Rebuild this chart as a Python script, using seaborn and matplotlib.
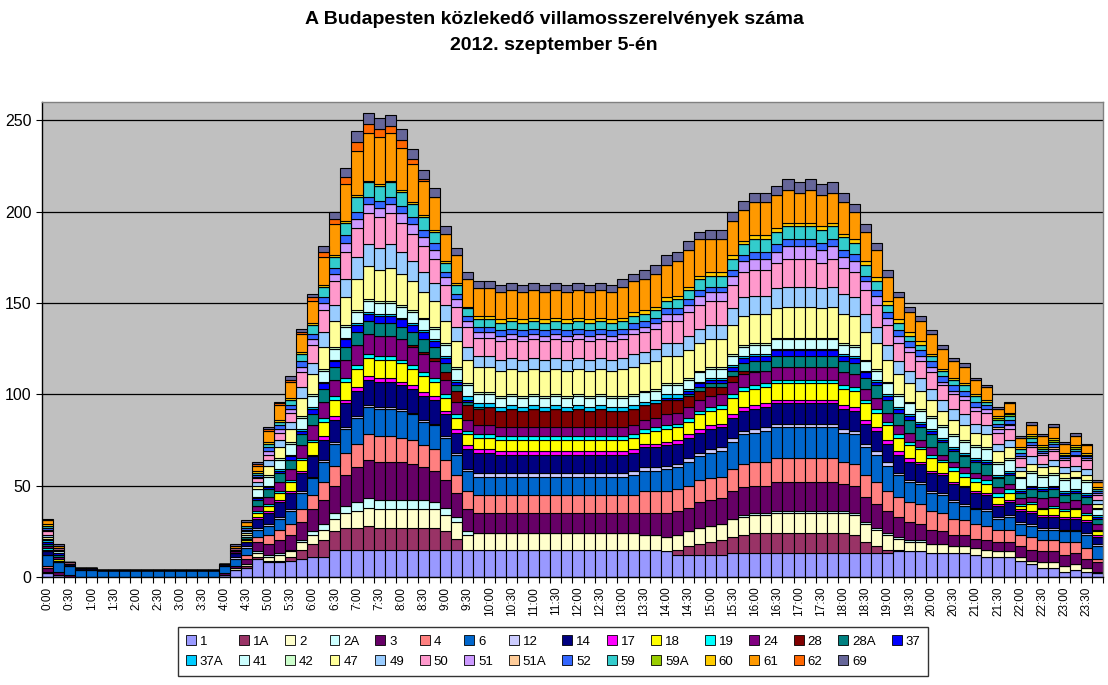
import numpy as np
import pandas as pd
import matplotlib
matplotlib.use("Agg")
import matplotlib.pyplot as plt
from matplotlib.patches import Patch
import seaborn as sns

# ------------------------ data ------------------------
# 96 quarter-hour slots, 0:00 ... 23:45
slots = [f"{h}:{m:02d}" for h in range(24) for m in (0, 15, 30, 45)]

lines = ['1', '1A', '2', '2A', '3', '4', '6', '12', '14', '17', '18', '19', '24', '28', '28A', '37',
         '37A', '41', '42', '47', '49', '50', '51', '51A', '52', '59', '59A', '60', '61', '62', '69']

s_1 = [2,1,0,0,0,0,0,0,0,0,0,0, 0,0,0,0,1,4,5,10,8,8,9,10,
       11,11,15,15,15,15,15,15,15,15,15,15, 15,15,15,15,15,15,15,15,15,15,15,15,
       15,15,15,15,15,15,15,15,14,12,12,12, 12,12,13,13,13,13,13,13,13,13,13,13,
       13,13,13,13,13,14,14,14,13,13,13,13, 12,11,11,11,9,7,5,5,3,4,3,2]
s_1A = [0,0,0,0,0,0,0,0,0,0,0,0, 0,0,0,0,0,0,1,1,1,1,2,5,
        7,9,10,12,12,13,12,12,12,12,12,12, 10,6,0,0,0,0,0,0,0,0,0,0,
        0,0,0,0,0,0,0,0,0,3,5,6, 7,8,9,10,11,11,11,11,11,11,11,11,
        11,10,6,4,2,1,0,0,0,0,0,0, 0,0,0,0,0,0,0,0,0,0,0,0]
s_2 = [1,0,0,0,0,0,0,0,0,0,0,0, 0,0,0,0,0,1,1,2,2,3,3,4,
       5,6,7,8,9,10,10,10,10,10,10,10, 9,9,8,9,9,9,9,9,9,9,9,9,
       9,9,9,9,9,9,8,8,8,8,8,9, 9,9,10,10,10,10,11,11,11,11,11,11,
       11,11,10,9,8,6,5,5,5,5,4,4, 4,4,3,3,2,2,3,3,3,3,2,1]
s_2A = [0,0,0,0,0,0,0,0,0,0,0,0, 0,0,0,0,0,0,0,1,1,1,1,1,
        2,3,3,4,5,5,5,5,5,5,5,4, 4,3,2,0,0,0,0,0,0,0,0,0,
        0,0,0,0,0,0,0,0,0,0,0,0, 0,0,0,1,1,1,1,1,1,1,1,1,
        1,1,1,1,1,1,1,1,0,0,0,0, 0,0,0,0,0,0,0,0,0,0,0,0]
s_3 = [2,2,1,0,0,0,0,0,0,0,0,0, 0,0,0,0,1,1,3,5,6,7,8,10,
       12,13,15,17,19,21,21,21,21,20,18,17, 15,13,12,11,11,11,11,11,11,11,11,11,
       11,11,11,11,11,11,12,12,13,13,13,14, 14,14,15,15,15,15,16,16,16,16,16,16,
       15,15,14,13,12,11,10,9,8,7,6,6, 5,5,5,5,6,6,6,6,6,6,5,5]
s_4 = [1,0,0,0,0,0,0,0,0,0,0,0, 0,0,0,0,0,0,2,3,5,6,6,7,
       8,10,11,12,13,14,14,14,13,13,12,12, 11,10,10,10,10,10,10,10,10,10,10,10,
       10,10,10,10,10,10,12,12,12,12,12,12, 12,12,12,13,13,13,13,13,13,13,13,13,
       12,12,12,12,11,11,11,11,10,10,9,8, 8,8,7,7,6,7,6,6,7,6,6,2]
s_6 = [6,5,5,4,4,4,4,4,4,4,4,4, 4,4,4,4,4,4,4,4,5,6,7,9,
       9,11,12,13,14,15,15,15,15,14,13,13, 12,11,11,10,10,10,10,10,10,10,10,10,
       10,10,10,10,10,11,11,11,12,12,13,13, 14,14,15,16,16,17,17,17,17,17,17,17,
       16,16,15,15,14,12,11,11,10,10,9,8, 8,8,6,7,6,6,6,6,6,6,7,7]
s_12 = [0,0,0,0,0,0,0,0,0,0,0,0, 0,0,0,0,0,1,1,1,1,1,1,1,
        1,1,1,1,1,1,1,1,1,1,1,1, 1,1,1,2,2,2,2,2,2,2,2,2,
        2,2,2,2,2,2,2,2,2,2,2,2, 2,2,2,2,2,2,2,2,2,2,2,2,
        2,2,2,2,2,1,1,1,1,1,1,1, 1,1,1,1,1,1,1,1,1,1,1,1]
s_14 = [2,1,1,1,1,0,0,0,0,0,0,0, 0,0,0,0,1,2,2,5,6,8,9,10,
        11,11,12,13,14,14,14,14,13,13,13,13, 12,11,11,11,11,10,10,10,10,10,10,10,
        10,10,10,10,10,10,11,11,11,11,11,11, 11,11,11,11,11,11,11,11,11,11,11,11,
        11,11,11,11,10,10,10,10,10,10,9,9, 8,8,6,7,6,6,6,6,6,6,6,4]
s_17 = [0,0,0,0,0,0,0,0,0,0,0,0, 0,0,0,0,0,0,0,1,1,1,1,1,
        1,2,2,2,2,2,2,2,2,2,2,2, 2,2,2,2,2,2,2,2,2,2,2,2,
        2,2,2,2,2,2,2,2,2,2,2,2, 2,2,2,2,2,2,2,2,2,2,2,2,
        2,2,2,2,2,2,2,1,1,1,1,1, 1,1,1,1,1,1,1,1,1,1,1,1]
s_18 = [1,1,0,0,0,0,0,0,0,0,0,0, 0,0,0,0,0,0,1,2,3,4,5,6,
        7,8,9,10,10,10,10,10,10,9,9,8, 7,6,6,6,6,6,6,6,6,6,6,6,
        6,6,6,6,6,6,6,7,7,7,7,8, 8,8,9,9,9,9,9,9,9,9,9,9,
        9,9,9,8,8,7,7,7,7,6,6,5, 5,5,4,4,2,4,3,4,3,4,3,2]
s_19 = [1,0,0,0,0,0,0,0,0,0,0,0, 0,0,0,0,0,0,0,1,1,1,1,1,
        1,2,2,2,2,2,2,2,2,2,2,2, 2,2,2,2,2,2,2,2,2,2,2,2,
        2,2,2,2,2,2,2,2,2,2,2,2, 2,2,2,2,2,2,2,2,2,2,2,2,
        2,2,2,2,2,2,2,1,2,1,2,2, 2,2,2,2,1,1,1,1,1,1,1,1]
s_24 = [1,1,0,0,0,0,0,0,0,0,0,0, 0,0,0,0,0,1,1,3,4,5,6,7,
        8,9,9,10,11,11,11,11,11,10,10,9, 8,7,6,5,5,5,5,5,5,5,5,5,
        5,5,5,5,5,5,5,5,6,6,6,6, 6,6,7,7,7,7,7,7,7,7,7,7,
        7,7,6,6,5,5,5,4,4,3,3,3, 3,3,3,3,3,3,5,5,4,4,5,3]
s_28 = [0,0,0,0,0,0,0,0,0,0,0,0, 0,0,0,0,0,0,0,0,0,0,0,0,
        0,0,0,0,0,0,0,0,0,1,1,2, 4,6,8,9,10,9,10,9,10,9,10,9,
        10,9,10,9,9,9,8,8,8,7,6,5, 5,4,3,2,1,0,0,0,0,0,0,0,
        0,0,0,0,0,0,0,0,0,0,0,0, 0,0,0,0,0,0,0,0,0,0,0,0]
s_28A = [1,1,0,0,0,0,0,0,0,0,0,0, 0,0,0,0,0,0,1,3,4,5,5,6,
         6,7,7,7,7,7,7,7,7,7,7,6, 5,3,2,1,0,0,0,0,0,0,0,0,
         0,0,0,0,0,0,0,0,0,0,1,2, 2,2,3,4,5,5,6,6,6,6,6,6,
         6,6,6,7,7,7,7,7,7,7,6,6, 6,6,5,5,3,4,4,4,4,4,4,3]
s_37 = [1,1,0,0,0,0,0,0,0,0,0,0, 0,0,0,0,0,0,0,1,1,1,2,2,
        3,3,3,4,4,4,4,4,4,4,4,3, 3,2,1,0,0,0,0,0,0,0,0,0,
        0,0,0,0,0,0,0,0,1,1,2,2, 2,2,2,3,3,3,3,3,3,3,3,3,
        3,3,3,2,2,2,2,2,2,1,1,1, 1,1,1,1,1,1,1,1,1,1,1,1]
s_37A = [1,0,0,0,0,0,0,0,0,0,0,0, 0,0,0,0,0,0,0,1,1,1,1,1,
         1,1,1,1,1,1,1,1,1,1,1,1, 1,1,2,2,2,2,2,2,2,2,2,2,
         2,2,2,2,2,2,2,2,2,2,1,1, 1,1,1,1,1,1,1,1,1,1,1,1,
         1,1,1,1,1,1,1,1,1,1,1,1, 1,1,1,1,1,1,1,1,1,1,1,1]
s_41 = [1,1,0,0,0,0,0,0,0,0,0,0, 0,0,0,0,0,1,1,4,5,5,6,6,
        6,6,6,6,6,6,6,6,6,6,6,6, 6,6,6,5,5,5,5,5,5,5,5,5,
        5,5,5,5,5,5,5,5,5,5,5,5, 5,5,5,5,5,5,5,5,5,5,5,5,
        5,5,5,5,6,6,6,6,6,6,6,6, 6,6,6,6,6,7,6,6,6,6,6,3]
s_42 = [0,0,0,0,0,0,0,0,0,0,0,0, 0,0,0,0,0,0,0,0,1,1,1,1,
        1,1,1,1,1,1,1,1,1,1,1,1, 1,1,1,1,1,1,1,1,1,1,1,1,
        1,1,1,1,1,1,1,1,1,1,1,1, 1,1,1,1,1,1,1,1,1,1,1,1,
        1,1,1,1,1,1,1,1,1,1,1,1, 1,1,1,1,1,1,1,1,1,1,1,1]
s_47 = [1,1,0,0,0,0,0,0,0,0,0,0, 0,0,0,0,0,0,1,2,5,6,7,10,
        11,12,14,15,17,18,17,18,17,16,14,14, 12,14,13,14,14,14,14,14,14,14,14,14,
        14,14,14,14,15,15,15,15,15,15,15,15, 15,15,16,16,16,16,16,17,17,17,16,17,
        16,16,15,14,12,11,10,10,9,8,8,8, 7,7,6,6,3,4,4,4,3,3,3,2]
s_49 = [1,0,0,0,0,0,0,0,0,0,0,0, 0,0,0,0,0,0,1,2,3,4,4,6,
        6,8,9,10,12,12,12,13,12,11,11,10, 9,8,7,6,6,6,6,6,6,6,6,6,
        6,6,6,6,6,7,6,7,7,7,8,8, 8,8,9,10,10,10,11,11,11,11,11,11,
        11,10,10,9,8,7,7,7,6,6,6,6, 5,5,4,4,2,4,2,3,3,3,3,2]
s_50 = [2,1,1,0,0,0,0,0,0,0,0,0, 0,0,0,0,0,1,1,2,3,4,5,8,
        10,12,13,15,16,17,17,17,16,15,14,13, 11,11,11,10,10,10,10,10,10,10,10,10,
        10,10,10,10,10,11,11,11,12,12,13,13, 13,13,13,14,14,14,14,15,15,15,14,15,
        14,14,13,12,11,10,10,9,9,8,8,8, 7,7,6,6,5,5,5,5,4,5,5,3]
s_51 = [1,0,0,0,0,0,0,0,0,0,0,0, 0,0,0,0,0,0,0,1,2,2,2,3,
        3,4,4,5,5,5,5,5,5,5,5,5, 4,4,3,3,3,3,3,3,3,3,3,3,
        3,3,3,3,3,3,3,3,4,4,4,5, 5,5,5,6,6,6,6,7,7,7,7,7,
        6,6,5,5,4,4,3,3,3,2,2,2, 2,2,2,2,1,1,1,1,1,1,1,1]
s_51A = [0,0,0,0,0,0,0,0,0,0,0,0, 0,0,0,0,0,0,0,0,0,0,0,0,
         0,0,0,0,0,0,0,0,0,0,0,0, 0,0,0,0,0,0,0,0,0,0,0,0,
         0,0,0,0,0,0,0,0,0,0,0,0, 0,0,0,0,0,0,0,0,0,0,0,0,
         0,0,0,0,0,0,0,0,0,0,0,0, 0,0,1,1,0,0,0,1,0,0,0,0]
s_52 = [1,0,0,0,0,0,0,0,0,0,0,0, 0,0,0,0,0,0,1,1,2,2,2,3,
        3,3,3,4,4,4,4,4,4,4,4,4, 3,3,3,3,3,3,3,3,3,3,3,3,
        3,3,3,3,3,3,3,3,3,3,3,3, 3,3,3,3,4,4,4,4,4,4,4,4,
        4,4,3,3,3,3,3,3,3,3,3,3, 3,2,2,2,2,2,1,2,1,2,1,1]
s_59 = [1,0,0,0,0,0,0,0,0,0,0,0, 0,0,0,0,0,0,1,1,2,2,3,4,
        5,6,6,7,8,8,8,8,8,7,7,6, 5,5,4,4,4,4,4,4,4,4,4,4,
        4,4,4,4,4,4,4,4,4,5,5,6, 6,6,6,6,7,7,7,7,7,7,7,7,
        7,6,6,5,4,4,3,3,3,3,3,3, 3,2,2,2,2,2,1,1,1,1,1,1]
s_59A = [0,0,0,0,0,0,0,0,0,0,0,0, 0,0,0,0,0,0,0,0,0,0,0,0,
         0,0,0,0,0,0,0,0,0,0,0,0, 0,0,0,0,0,0,0,0,0,0,0,0,
         0,0,0,0,0,0,0,0,0,0,0,0, 0,0,0,0,0,0,0,0,0,0,0,0,
         0,0,0,0,0,0,0,0,0,0,0,0, 0,0,1,1,0,1,1,1,0,1,0,0]
s_60 = [1,0,0,0,0,0,0,0,0,0,0,0, 0,0,0,0,0,0,0,1,1,1,1,1,
        1,1,1,1,1,1,1,1,1,1,1,1, 1,1,1,2,2,2,2,2,2,2,2,2,
        2,2,2,2,2,2,2,2,2,2,2,2, 2,2,2,2,2,2,2,2,2,2,2,2,
        2,2,2,2,2,2,2,2,1,1,1,1, 1,1,1,1,1,1,1,1,1,1,1,1]
s_61 = [2,1,0,0,0,0,0,0,0,0,0,0, 0,0,0,0,0,1,2,3,6,8,9,10,
        12,15,17,20,24,26,26,26,23,21,19,18, 15,15,15,15,15,15,15,15,15,15,15,15,
        15,15,15,15,17,17,17,18,18,19,20,20, 18,18,19,17,18,18,18,18,16,18,17,16,
        17,15,16,15,13,12,11,11,11,11,9,9, 8,7,4,5,5,5,5,6,5,5,4,3]
s_62 = [0,0,0,0,0,0,0,0,0,0,0,0, 0,0,0,0,0,0,0,1,1,1,1,1,
        2,3,3,4,5,5,4,4,4,3,1,0, 0,0,0,0,0,0,0,0,0,0,0,0,
        0,0,0,0,0,0,0,0,0,0,0,0, 0,0,0,0,0,0,0,0,0,0,0,0,
        0,0,0,0,0,0,0,0,0,0,0,0, 0,0,0,0,0,0,0,0,0,0,0,0]
s_69 = [1,1,0,0,0,0,0,0,0,0,0,0, 0,0,0,0,0,1,1,1,1,1,2,2,
        2,3,4,5,6,6,6,6,6,5,5,5, 4,4,4,4,4,4,4,4,4,4,4,4,
        4,4,4,4,4,4,5,5,5,5,5,4, 5,5,5,5,5,5,5,6,6,6,6,6,
        5,4,4,4,4,3,3,3,2,2,2,2, 1,1,1,1,1,2,1,2,1,2,1,1]

series = [s_1, s_1A, s_2, s_2A, s_3, s_4, s_6, s_12, s_14, s_17, s_18, s_19, s_24, s_28, s_28A, s_37,
          s_37A, s_41, s_42, s_47, s_49, s_50, s_51, s_51A, s_52, s_59, s_59A, s_60, s_61, s_62, s_69]

colors = ['#9999FF', '#993366', '#FFFFCC', '#CCFFFF', '#660066', '#FF8080', '#0066CC', '#CCCCFF',
          '#000080', '#FF00FF', '#FFFF00', '#00FFFF', '#800080', '#800000', '#008080', '#0000FF',
          '#00CCFF', '#CCFFFF', '#CCFFCC', '#FFFF99', '#99CCFF', '#FF99CC', '#CC99FF', '#FFCC99',
          '#3366FF', '#33CCCC', '#99CC00', '#FFCC00', '#FF9900', '#FF6600', '#666699']

for name, vals in zip(lines, series):
    assert len(vals) == 96, (name, len(vals))

# long table for seaborn
rows = []
for name, vals in zip(lines, series):
    for i, v in enumerate(vals):
        rows.append((i, name, v))
df = pd.DataFrame(rows, columns=['slot', 'line', 'trams'])
palette = dict(zip(lines, colors))

# ------------------------ plot ------------------------
sns.set_theme(style="white")
plt.rcParams['font.family'] = ['Liberation Sans', 'DejaVu Sans']
plt.rcParams['text.color'] = 'black'
plt.rcParams['xtick.color'] = 'black'
plt.rcParams['ytick.color'] = 'black'

fig = plt.figure(figsize=(11.08, 6.85), dpi=100)
ax = fig.add_axes([42/1108, 1 - 577/685, (1103 - 42)/1108, (577 - 102)/685])
ax.set_facecolor('#C0C0C0')

# seaborn stacks the first hue level on top, so feed the order reversed
sns.histplot(data=df, x='slot', weights='trams', hue='line', hue_order=lines[::-1],
             multiple='stack', discrete=True, shrink=1, palette=palette, alpha=1,
             edgecolor='black', linewidth=0.8, legend=False, ax=ax)

ax.set_xlim(-0.5, 95.5)
ax.set_ylim(0, 260)
ax.set_yticks(range(0, 251, 50))
ax.yaxis.grid(True, color='black', linewidth=0.9)
ax.set_axisbelow(True)
ax.set_xlabel('')
ax.set_ylabel('')

ax.set_xticks(range(0, 96, 2))
ax.set_xticklabels(slots[::2], rotation=90, fontsize=8.5)
ax.set_xticks(np.arange(-0.5, 96, 1), minor=True)
ax.tick_params(axis='x', which='major', length=0, pad=7)
ax.tick_params(axis='x', which='minor', length=4, width=0.8, color='black', direction='out', bottom=True)
ax.tick_params(axis='y', labelsize=11.5, length=4, width=0.8, color='black', direction='out', left=True)

for side in ['left', 'bottom']:
    ax.spines[side].set_color('black')
    ax.spines[side].set_linewidth(1)
for side in ['top', 'right']:
    ax.spines[side].set_color('#808080')
    ax.spines[side].set_linewidth(1)

fig.text(0.5, 1 - 20/685, "A Budapesten közlekedő villamosszerelvények száma",
         ha='center', va='center', fontsize=14, fontweight='bold', color='black')
fig.text(0.5, 1 - 45/685, "2012. szeptember 5-én",
         ha='center', va='center', fontsize=14, fontweight='bold', color='black')

# legend, row-major like the original (16 entries on the first row)
handles = [Patch(facecolor=c, edgecolor='black', linewidth=0.6, label=n) for n, c in zip(lines, colors)]
order = []
for j in range(15):
    order += [j, 16 + j]
order.append(15)
leg = fig.legend([handles[k] for k in order], [lines[k] for k in order],
                 loc='center', bbox_to_anchor=(553/1108, 1 - 651.5/685), ncol=16,
                 frameon=True, fancybox=False, edgecolor='black', facecolor='white',
                 fontsize=9.5, handlelength=0.75, handleheight=0.75, handletextpad=0.3,
                 columnspacing=1.2, borderpad=0.6, labelspacing=0.6)
leg.get_frame().set_linewidth(1)

fig.savefig('out.png', dpi=100)
